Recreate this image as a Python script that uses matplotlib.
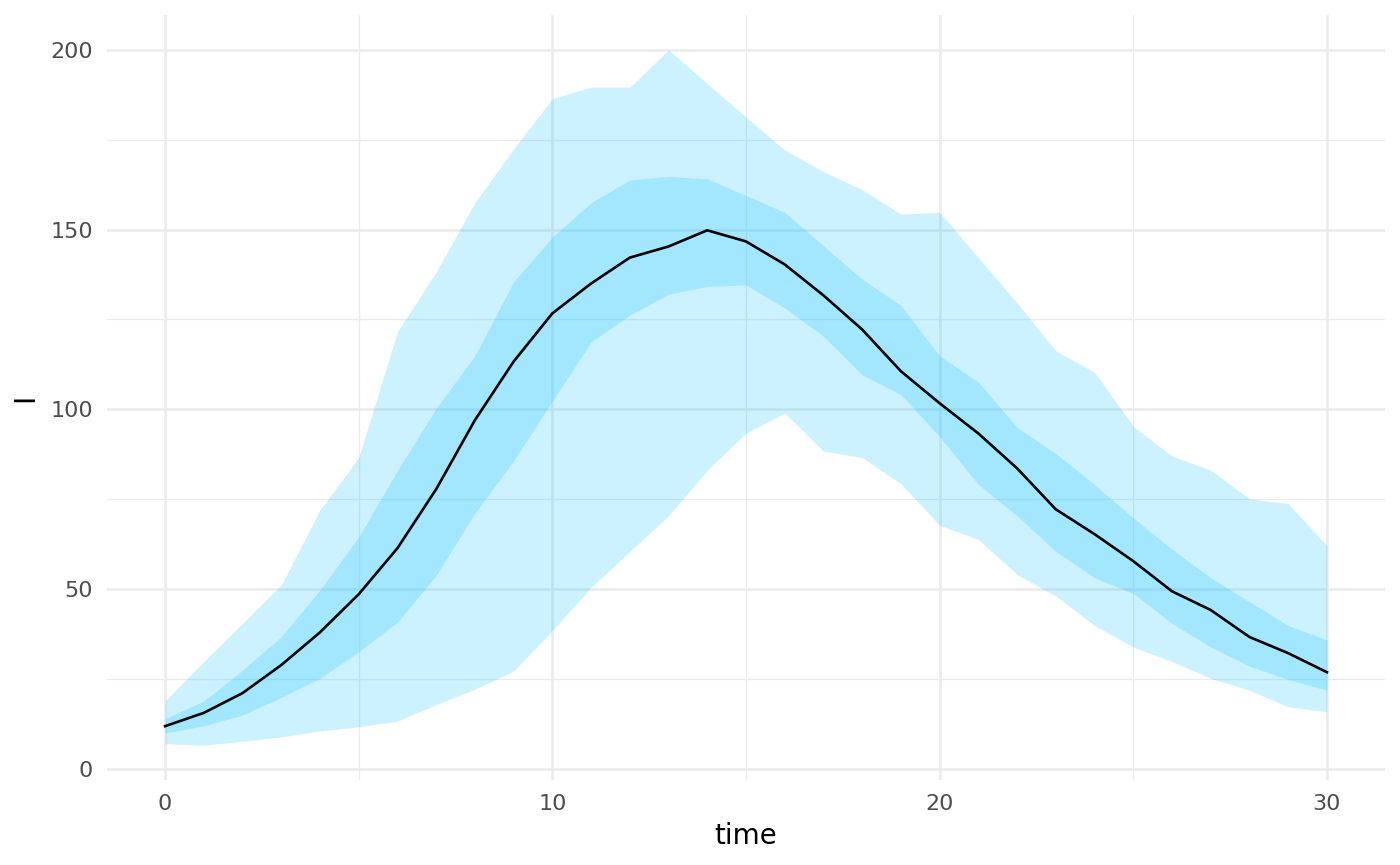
import numpy as np
import matplotlib.pyplot as plt
from matplotlib.ticker import MultipleLocator

time = np.arange(0, 31)

# median trajectory of I
med = [11.9, 15.6, 21.1, 28.9, 38.0, 48.6, 61.4, 77.8, 97.0, 113.3,
       126.7, 135.0, 142.2, 145.3, 149.8, 146.7, 140.3, 131.7, 122.2, 110.6,
       101.7, 93.3, 83.6, 72.2, 65.3, 57.8, 49.4, 44.2, 36.7, 32.2, 26.9]

# inner band
inner_lo = [10.0, 12.0, 15.0, 19.9, 25.2, 32.6, 40.8, 53.8, 71.1, 85.7,
            102.3, 118.7, 126.2, 132.0, 134.2, 134.6, 128.2, 120.3, 109.6, 104.1,
            92.4, 79.1, 70.4, 60.5, 53.2, 48.8, 40.5, 33.9, 28.6, 24.9, 21.9]
inner_hi = [14.0, 18.9, 27.5, 36.8, 49.8, 64.5, 83.0, 100.3, 114.9, 135.5,
            147.9, 157.5, 163.8, 164.8, 164.1, 159.5, 154.8, 145.5, 136.2, 128.9,
            114.9, 107.6, 95.0, 87.7, 79.1, 69.8, 61.1, 53.2, 46.5, 39.9, 35.9]

# outer band
outer_lo = [7.0, 6.6, 7.7, 8.9, 10.6, 11.7, 13.3, 17.9, 22.2, 27.2,
            38.5, 50.5, 60.5, 70.4, 83.1, 93.4, 99.0, 88.4, 86.6, 79.3,
            67.8, 63.8, 54.1, 48.1, 39.9, 33.9, 29.9, 25.2, 21.9, 17.3, 15.9]
outer_hi = [18.9, 29.9, 40.5, 51.2, 72.0, 86.6, 121.6, 138.2, 157.5, 172.4,
            186.4, 189.6, 189.6, 200.0, 190.6, 181.3, 172.1, 166.1, 161.1, 154.3,
            154.8, 142.2, 129.6, 116.3, 110.3, 95.3, 87.0, 83.1, 75.1, 73.8, 62.1]

fig = plt.figure(figsize=(14, 8.65), dpi=100)
ax = fig.add_axes([107 / 1400, 85 / 865, 1278 / 1400, 765 / 865])

ax.fill_between(time, outer_lo, outer_hi, color='deepskyblue', alpha=0.2, linewidth=0)
ax.fill_between(time, inner_lo, inner_hi, color='deepskyblue', alpha=0.2, linewidth=0)
ax.plot(time, med, color='black', linewidth=1.9)

# ggplot-like 5% expansion
lo = min(outer_lo)
hi = max(outer_hi)
pad = 0.05 * (hi - lo)
ax.set_ylim(lo - pad, hi + pad)
ax.set_xlim(-1.5, 31.5)

ax.xaxis.set_major_locator(MultipleLocator(10))
ax.xaxis.set_minor_locator(MultipleLocator(5))
ax.yaxis.set_major_locator(MultipleLocator(50))
ax.yaxis.set_minor_locator(MultipleLocator(25))

ax.set_axisbelow(True)
ax.grid(which='major', color='#EBEBEB', linewidth=1.8)
ax.grid(which='minor', color='#EBEBEB', linewidth=0.9)
for s in ax.spines.values():
    s.set_visible(False)
ax.tick_params(which='both', length=0)
ax.tick_params(axis='both', labelsize=16, labelcolor='#4D4D4D', pad=10)

ax.set_xlabel('time', fontsize=20, labelpad=6)
ax.set_ylabel('I', fontsize=20, labelpad=8)

fig.savefig('out.png', dpi=100)
